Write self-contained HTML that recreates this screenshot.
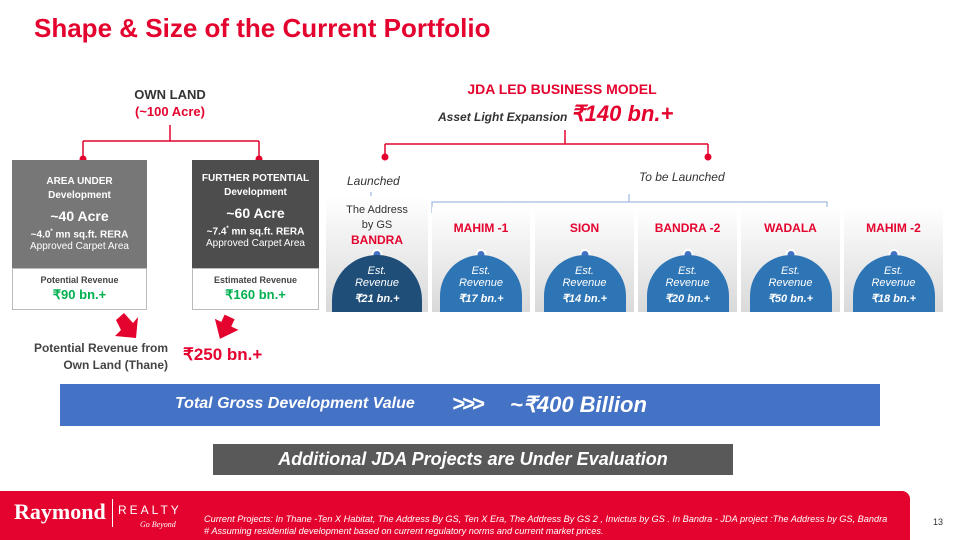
<!DOCTYPE html>
<html><head><meta charset="utf-8"><style>
*{margin:0;padding:0;box-sizing:border-box}
body{width:959px;height:540px;background:#fff;position:relative;overflow:hidden;font-family:"Liberation Sans",sans-serif}
.a{position:absolute}
.red{color:#e4032e}
.card{position:absolute;top:207px;height:105px;background:linear-gradient(#fff,#d9d9d9);}
.nm{position:absolute;width:100%;top:14px;text-align:center;color:#e4032e;font-weight:bold;font-size:12px}
.dome{position:absolute;bottom:0;left:50%;transform:translateX(-50%);width:82px;height:57px;border-radius:41px 41px 0 0;background:#2e75b6;color:#fff;text-align:center;font-style:italic;font-size:11px;line-height:12px;padding-top:10px}
.dome b{display:block;margin-top:4px;font-size:11px}
.dot{position:absolute;left:50%;bottom:52px;transform:translateX(-50%);width:11px;height:11px;border-radius:50%;background:#4472c4;border:2px solid #fff}
</style></head><body>
<div class="a red" style="left:34px;top:13px;font-size:26px;font-weight:bold">Shape &amp; Size of the Current Portfolio</div>

<svg class="a" style="left:0;top:0" width="959" height="540">
<g stroke="#e4032e" stroke-width="1.5" fill="none">
<path d="M170 125V141M83 141H259M83 141V158M259 141V158"/>
<path d="M565 130V144M385 144H708M385 144V156M708 144V156"/>
</g>
<g fill="#e4032e"><circle cx="83" cy="159" r="3.5"/><circle cx="259" cy="159" r="3.5"/><circle cx="385" cy="157" r="3.5"/><circle cx="708" cy="157" r="3.5"/></g>
<g stroke="#8faadc" stroke-width="1" fill="none">
<path d="M337 206V199H371V192M371 199H405V206"/>
<path d="M432 213V202H629V194M629 202H827V213"/>
</g>
<g fill="#e4032e">
<path d="M116 320L124 313L133 323L138 317L136 338L115 336L121 330Z"/>
<path d="M219 316L230 316L230 324L238 324L225 340L212 324L219 324Z" transform="rotate(25 225 328)"/>
</g>
</svg>

<div class="a" style="left:100px;top:87px;width:140px;text-align:center;font-weight:bold;font-size:13px;color:#333">OWN LAND</div>
<div class="a red" style="left:100px;top:104px;width:140px;text-align:center;font-weight:bold;font-size:13px">(~100 Acre)</div>

<div class="a" style="left:12px;top:160px;width:135px;height:108px;background:#777;color:#fff;text-align:center">
<div style="font-size:10px;font-weight:bold;margin-top:15px;line-height:14px">AREA UNDER<br>Development</div>
<div style="font-size:14px;font-weight:bold;margin-top:5px">~40 Acre</div>
<div style="font-size:10px;font-weight:bold;margin-top:5px">~4.0<sup style="font-size:6px">*</sup> mn sq.ft. RERA</div>
<div style="font-size:10px;margin-top:1px">Approved Carpet Area</div></div>
<div class="a" style="left:12px;top:268px;width:135px;height:42px;border:1px solid #bbb;text-align:center;background:#fff">
<div style="font-size:9px;font-weight:bold;color:#444;margin-top:6px">Potential Revenue</div>
<div style="font-size:13px;font-weight:bold;color:#00b050;margin-top:2px">₹90 bn.+</div></div>

<div class="a" style="left:192px;top:160px;width:127px;height:108px;background:#4d4d4d;color:#fff;text-align:center">
<div style="font-size:10px;font-weight:bold;margin-top:12px;line-height:14px">FURTHER POTENTIAL<br>Development</div>
<div style="font-size:14px;font-weight:bold;margin-top:5px">~60 Acre</div>
<div style="font-size:10px;font-weight:bold;margin-top:5px">~7.4<sup style="font-size:6px">*</sup> mn sq.ft. RERA</div>
<div style="font-size:10px;margin-top:1px">Approved Carpet Area</div></div>
<div class="a" style="left:192px;top:268px;width:127px;height:42px;border:1px solid #bbb;text-align:center;background:#fff">
<div style="font-size:9px;font-weight:bold;color:#444;margin-top:6px">Estimated Revenue</div>
<div style="font-size:13px;font-weight:bold;color:#00b050;margin-top:2px">₹160 bn.+</div></div>

<div class="a" style="left:10px;top:340px;width:158px;text-align:right;font-size:12px;font-weight:bold;color:#444;line-height:17px">Potential Revenue from<br>Own Land (Thane)</div>
<div class="a red" style="left:183px;top:345px;font-size:17px;font-weight:bold">₹250 bn.+</div>

<div class="a red" style="left:462px;top:81px;width:200px;text-align:center;font-size:14px;font-weight:bold">JDA LED BUSINESS MODEL</div>
<div class="a" style="left:438px;top:101px;font-style:italic;font-weight:bold;color:#333;font-size:12px">Asset Light Expansion <span class="red" style="font-size:22px">₹140 bn.+</span></div>

<div class="a" style="left:347px;top:174px;font-style:italic;font-size:12px;color:#333">Launched</div>
<div class="a" style="left:639px;top:170px;font-style:italic;font-size:12px;color:#333">To be Launched</div>

<div class="card" style="left:326px;top:196px;width:102px;height:116px">
<div style="position:absolute;width:100%;top:7px;text-align:center;font-size:11px;color:#333;line-height:15px">The Address<br>by GS</div>
<div class="nm" style="top:37px">BANDRA</div>
<div class="dot"></div><div class="dome" style="background:#1f4e79;width:90px;border-radius:45px 45px 0 0">Est.<br>Revenue<b>₹21 bn.+</b></div></div>
<div class="card" style="left:432px;width:98px"><div class="nm">MAHIM -1</div><div class="dot"></div><div class="dome">Est.<br>Revenue<b>₹17 bn.+</b></div></div>
<div class="card" style="left:535px;width:99px"><div class="nm">SION</div><div class="dot"></div><div class="dome">Est.<br>Revenue<b>₹14 bn.+</b></div></div>
<div class="card" style="left:638px;width:99px"><div class="nm">BANDRA -2</div><div class="dot"></div><div class="dome">Est.<br>Revenue<b>₹20 bn.+</b></div></div>
<div class="card" style="left:741px;width:99px"><div class="nm">WADALA</div><div class="dot"></div><div class="dome">Est.<br>Revenue<b>₹50 bn.+</b></div></div>
<div class="card" style="left:844px;width:99px"><div class="nm">MAHIM -2</div><div class="dot"></div><div class="dome">Est.<br>Revenue<b>₹18 bn.+</b></div></div>

<div class="a" style="left:60px;top:384px;width:820px;height:42px;background:#4472c4;color:#fff;font-style:italic;font-weight:bold">
<span class="a" style="left:115px;top:11px;font-size:16px">Total Gross Development Value</span>
<span class="a" style="left:392px;top:7px;font-size:22px;letter-spacing:-3px">&gt;&gt;&gt;</span>
<span class="a" style="left:450px;top:8px;font-size:22px">~₹400 Billion</span></div>
<div class="a" style="left:213px;top:444px;width:520px;height:31px;background:#595959;color:#fff;font-style:italic;font-weight:bold;font-size:18px;text-align:center;line-height:31px">Additional JDA Projects are Under Evaluation</div>

<div class="a" style="left:0;top:491px;width:910px;height:49px;background:#e4032e;border-radius:0 8px 0 0">
<div class="a" style="left:14px;top:8px;color:#fff;font-family:'Liberation Serif',serif;font-weight:bold;font-size:22px">Raymond</div>
<div class="a" style="left:112px;top:8px;width:1px;height:28px;background:#fff"></div>
<div class="a" style="left:118px;top:12px;color:#fff;font-size:12px;letter-spacing:3px">REALTY</div>
<div class="a" style="left:140px;top:29px;color:#fff;font-family:'Liberation Serif',serif;font-style:italic;font-size:8px">Go Beyond</div>
<div class="a" style="left:204px;top:22px;color:#fff;font-style:italic;font-size:9.2px;line-height:12px">Current Projects: In Thane -Ten X Habitat, The Address By GS, Ten X Era, The Address By GS 2 , Invictus by GS . In Bandra - JDA project :The Address by GS, Bandra<br># Assuming residential development based on current regulatory norms and current market prices.</div></div>
<div class="a" style="left:933px;top:517px;font-size:9px;color:#333">13</div>
</body></html>
